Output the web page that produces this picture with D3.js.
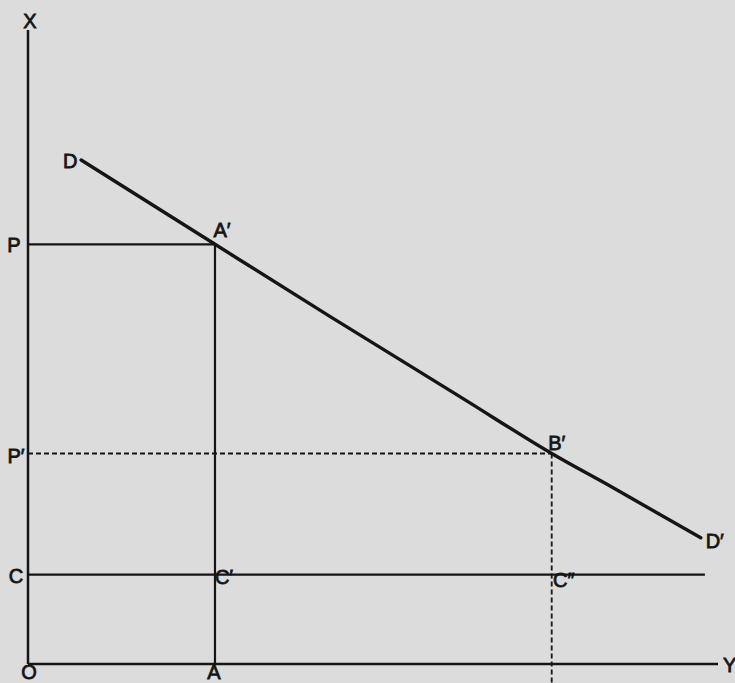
<!DOCTYPE html>
<html>
<head>
<meta charset="utf-8">
<script src="https://cdn.jsdelivr.net/npm/d3@7"></script>
<style>
  html, body { margin: 0; padding: 0; background: #dcdcdc; }
  svg { display: block; }
  text { font-family: "Liberation Sans", Arial, sans-serif; fill: #151515; stroke: #151515; stroke-width: 0.8; }
</style>
</head>
<body>
<svg id="chart" width="735" height="683"></svg>
<script>
// ---- data (abstract units, origin O = 0,0) ----
const curveX = [7.7, 27.1, 43.8, 63.0, 75.9, 84.8, 97.5];
const curveY = [79.5, 66.2, 54.8, 41.9, 33.2, 27.8, 19.9];

const hNames  = ["P", "P′", "C"];
const hValues = [66.2, 33.2, 14.1];
const hEnds   = [27.1, 75.9, 98.1];
const hDashed = [false, true, false];

const vNames  = ["A", "B"];
const vValues = [27.1, 75.9];
const vTops   = [66.2, 33.2];
const vDashed = [false, true];

const axisMax = [100, 100];

// ---- scales ----
const svg = d3.select("#chart");
const x = d3.scaleLinear().domain([0, 100]).range([28, 718]);
const y = d3.scaleLinear().domain([0, 100]).range([664, 30]);

const ink = "#151515";

// axes
svg.append("line").attr("x1", x(0)).attr("x2", x(0)).attr("y1", y(0)).attr("y2", y(axisMax[1]))
  .attr("stroke", ink).attr("stroke-width", 2.5);
svg.append("line").attr("x1", x(0)).attr("x2", x(axisMax[0])).attr("y1", y(0)).attr("y2", y(0))
  .attr("stroke", ink).attr("stroke-width", 2.5);

// horizontal guide lines
hValues.forEach((v, i) => {
  svg.append("line")
    .attr("x1", x(0)).attr("x2", x(hEnds[i]))
    .attr("y1", y(v)).attr("y2", y(v))
    .attr("stroke", ink)
    .attr("stroke-width", hDashed[i] ? 1.8 : 2.2)
    .attr("stroke-dasharray", hDashed[i] ? "5,3" : null);
});

// vertical guide lines
vValues.forEach((u, i) => {
  svg.append("line")
    .attr("x1", x(u)).attr("x2", x(u))
    .attr("y1", y(vTops[i])).attr("y2", vDashed[i] ? 683 : y(0))
    .attr("stroke", ink)
    .attr("stroke-width", vDashed[i] ? 1.8 : 2.2)
    .attr("stroke-dasharray", vDashed[i] ? "5,3" : null);
});

// demand curve D D'
const curve = curveX.map((u, i) => [u, curveY[i]]);
svg.append("path")
  .datum(curve)
  .attr("d", d3.line().x(d => x(d[0])).y(d => y(d[1])).curve(d3.curveMonotoneX))
  .attr("fill", "none").attr("stroke", ink).attr("stroke-width", 3.4)
  .attr("stroke-linecap", "round");

// ---- labels ----
const fs = 20;
function label(txt, px, py, anchor) {
  svg.append("text").attr("x", px).attr("y", py)
    .attr("text-anchor", anchor || "middle")
    .attr("font-size", fs)
    .text(txt);
}
// axis labels
label("X", x(0) + 2, y(axisMax[1]) - 2);
label("Y", x(axisMax[0]) + 5, y(0) + 8, "start");
label("O", x(0) + 1, y(0) + 15);
label(vNames[0], x(vValues[0]) - 1, y(0) + 15);

// horizontal line labels (left of axis)
label(hNames[0], x(0) - 14, y(hValues[0]) + 8);
label(hNames[1], x(0) - 12, y(hValues[1]) + 9);
label(hNames[2], x(0) - 12, y(hValues[2]) + 8);

// curve labels
label("D", x(curveX[0]) - 11, y(curveY[0]) + 8);
label("D′", x(curveX[curveX.length - 1]) + 14, y(curveY[curveY.length - 1]) + 10);
label("A′", x(vValues[0]) + 7, y(hValues[0]) - 7);
label("B′", x(vValues[1]) + 5, y(hValues[1]) - 4);

// intersection labels on C line
label("C′", x(vValues[0]) + 9, y(hValues[2]) + 9);
label("C″", x(vValues[1]) + 12, y(hValues[2]) + 12);
</script>
</body>
</html>
